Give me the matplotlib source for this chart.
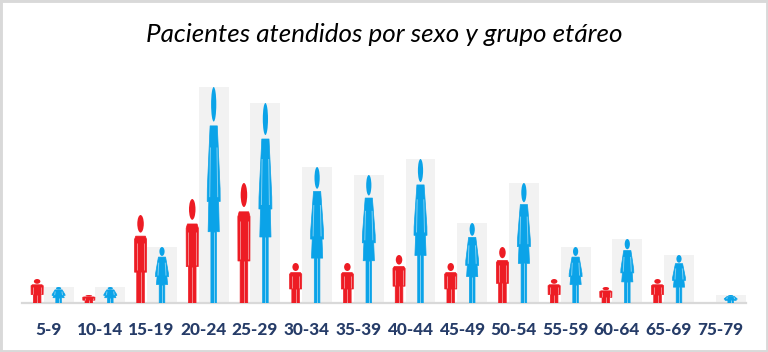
import matplotlib
matplotlib.use('Agg')
import matplotlib.pyplot as plt
from matplotlib.patches import Ellipse, Polygon, Rectangle

groups = ['5-9', '10-14', '15-19', '20-24', '25-29', '30-34', '35-39',
          '40-44', '45-49', '50-54', '55-59', '60-64', '65-69', '75-79']
hombres = [3, 1, 11, 13, 15, 5, 5, 6, 5, 7, 3, 2, 3, 0]
mujeres = [2, 2, 7, 27, 25, 17, 16, 18, 10, 15, 7, 8, 6, 1]

RED = '#ed1c24'
RED_LIGHT = '#f4858a'
BLUE = '#0ba3e8'
BLUE_LIGHT = '#7fd0f2'
GRAY = '#f2f2f2'
NAVY = '#263c68'

STEP = 51.7  # pixels between groups

# figure outlines: x in pixels from the centre, y as a fraction of the height
MALE_BODY = [(-3.8, 0), (3.8, 0), (3.8, .35), (6, .35), (6.1, .72), (4.8, .76),
             (-4.8, .76), (-6.1, .72), (-6, .35), (-3.8, .35)]
MALE_LINES = [[(0, 0), (0, .35)], [(3.8, .37), (3.8, .68)],
              [(-3.8, .37), (-3.8, .68)]]
FEMALE_BODY = [(-2.8, 0), (2.8, 0), (2.8, .33), (5.6, .33), (4.9, .47), (6.5, .47),
               (6.4, .53), (3.6, .82), (-3.6, .82), (-6.4, .53), (-6.5, .47),
               (-4.9, .47), (-5.6, .33), (-2.8, .33)]
FEMALE_LINES = [[(0, 0), (0, .33)], [(4, .49), (3.3, .72)],
                [(-4, .49), (-3.3, .72)]]


def person(ax, x, value, body, lines, head, color, light):
    if value == 0:
        return
    pts = [(x + px / STEP, f * value) for px, f in body]
    ax.add_patch(Polygon(pts, closed=True, fc=color, ec=color, lw=0.5,
                         joinstyle='round', zorder=3))
    for line in lines:
        ax.plot([x + px / STEP for px, f in line], [f * value for px, f in line],
                color=light, lw=0.7, zorder=4, solid_capstyle='butt')
    y0, y1, w = head
    ax.add_patch(Ellipse((x, (y0 + y1) / 2 * value), w / STEP, (y1 - y0) * value,
                         fc=color, ec='none', zorder=3))


def main():
    fig = plt.figure(figsize=(7.68, 3.52), dpi=100)

    # axes box in pixels: 22..746 wide, baseline at y=303, 8 px per patient
    ax = fig.add_axes([22 / 768, (352 - 303) / 352, 724 / 768, 225 / 352])
    ax.set_xlim((22 - 48) / STEP, (746 - 48) / STEP)
    ax.set_ylim(0, 225 / 8)
    ax.patch.set_visible(False)

    xs = list(range(len(groups)))
    ax.bar([x + 0.205 for x in xs], mujeres, width=0.58, color=GRAY, zorder=1)
    for x, h, m in zip(xs, hombres, mujeres):
        person(ax, x - 0.21, h, MALE_BODY, MALE_LINES, (.8, 1, 6.5), RED, RED_LIGHT)
        person(ax, x + 0.205, m, FEMALE_BODY, FEMALE_LINES, (.84, 1, 5.2), BLUE, BLUE_LIGHT)

    for side in ('top', 'left', 'right'):
        ax.spines[side].set_visible(False)
    ax.spines['bottom'].set_color('#d9d9d9')
    ax.spines['bottom'].set_linewidth(1.6)
    ax.set_yticks([])
    ax.set_xticks(xs)
    ax.set_xticklabels(groups, family='Lato', fontweight='black', fontsize=12.3, color=NAVY)
    ax.tick_params(axis='x', length=0, pad=13.5)

    fig.text(384 / 768, 1 - 34 / 352, 'Pacientes atendidos por sexo y grupo etáreo',
             family='Lato', style='italic', fontsize=18.7, color='black',
             ha='center', va='center')

    # frame of the picture
    fig.add_artist(Rectangle((0, 0), 1, 1, transform=fig.transFigure, fc='none',
                             ec='#d9d9d9', lw=3.5))
    fig.savefig('out.png', dpi=100)


if __name__ == '__main__':
    main()
